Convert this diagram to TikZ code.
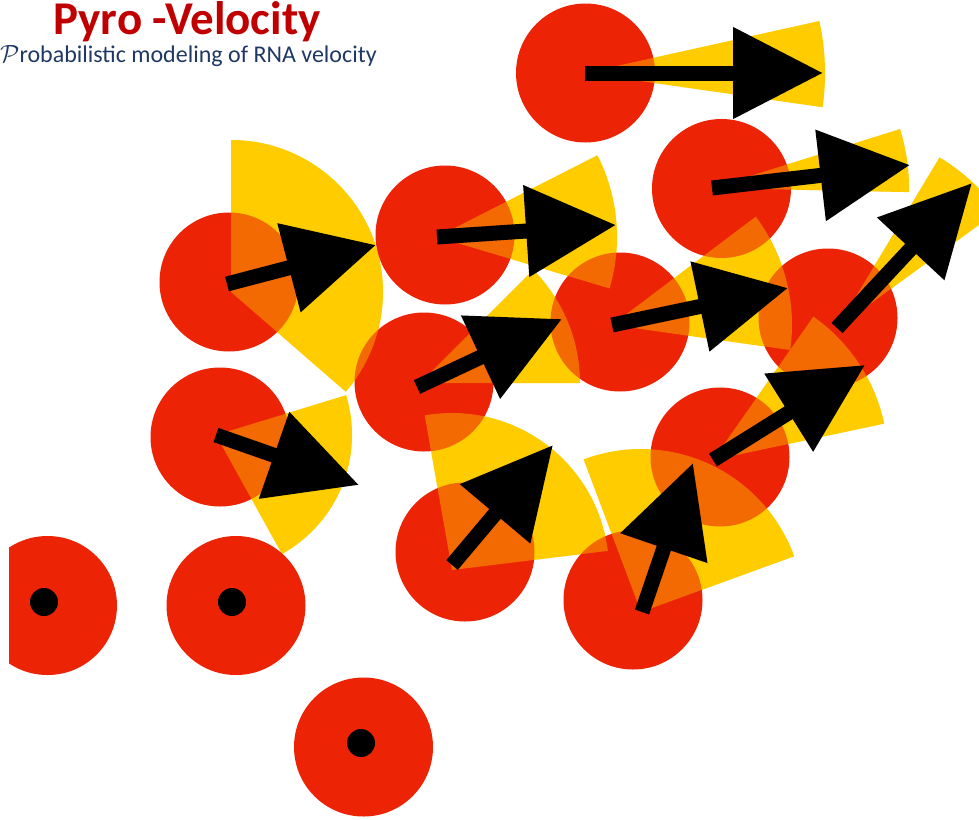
\documentclass[tikz,border=0pt]{standalone}
\usepackage{fontspec}
\setmainfont{Carlito}
\usetikzlibrary{arrows.meta}
\definecolor{cellred}{RGB}{236,35,5}
\definecolor{wedgey}{RGB}{255,204,0}
\definecolor{titlered}{RGB}{192,0,0}
\definecolor{navy}{RGB}{31,56,100}
\tikzset{
  cell/.style={fill=cellred},
  wedgebase/.style={fill=wedgey},
  wedgetop/.style={fill=wedgey, fill opacity=0.42},
  vel/.style={line width=15pt, -{Triangle[length=90pt,width=88pt]}},
  nucleus/.style={fill=black},
}
\newcommand\wedgefill[5]{\fill[#1] (#2) -- ++(#3:#5) arc[start angle=#3, end angle=#4, radius=#5] -- cycle;}
\begin{document}
\begin{tikzpicture}[x=1pt,y=-1pt]
\useasboundingbox (0,0) rectangle (979,819);
% cell centres
\coordinate (C1) at (585.5,73);
\coordinate (C2) at (721.5,188.5);
\coordinate (C3) at (229,282);
\coordinate (C4) at (445,235);
\coordinate (C5) at (620,322);
\coordinate (C6) at (828,318);
\coordinate (C7) at (424,382);
\coordinate (C8) at (220,437);
\coordinate (C9) at (720,457);
\coordinate (C10) at (465,552);
\coordinate (C11) at (633,600);
\coordinate (C12) at (47.5,605.5);
\coordinate (C13) at (236,605.5);
\coordinate (C14) at (363.5,747);
% arrow starts
\coordinate (A1) at (585,73);
\coordinate (A2) at (712,188);
\coordinate (A3) at (227,284);
\coordinate (A4) at (437,237);
\coordinate (A5) at (612,325);
\coordinate (A6) at (837,328);
\coordinate (A7) at (417,387);
\coordinate (A8) at (216,435);
\coordinate (A9) at (713,460);
\coordinate (A10) at (452,565);
\coordinate (A11) at (642,612);
% arrow tips
\coordinate (T1) at (823,73);
\coordinate (T2) at (910,165);
\coordinate (T3) at (376,245);
\coordinate (T4) at (616,225);
\coordinate (T5) at (788,288);
\coordinate (T6) at (972,183);
\coordinate (T7) at (562,319);
\coordinate (T8) at (359,485);
\coordinate (T9) at (865,365);
\coordinate (T10) at (553,445);
\coordinate (T11) at (693,463);
% wedge apexes
\coordinate (W1) at (585,73);
\coordinate (W2) at (712,188);
\coordinate (W3) at (231,292);
\coordinate (W4) at (437,237);
\coordinate (W5) at (612,325);
\coordinate (W6) at (837,328);
\coordinate (W7) at (420,383);
\coordinate (W8) at (216,435);
\coordinate (W9) at (713,460);
\coordinate (W10) at (452,570);
\coordinate (W11) at (641,612);
% nuclei
\coordinate (N12) at (44,602);
\coordinate (N13) at (232,602);
\coordinate (N14) at (361,743);
\def\wedgelist{W1/-12.5/8.2/240, W2/-17.4/1.2/197, W3/-90/41/152, W4/-27/16.6/180, W5/-37/8/180, W6/-59/-36/199, W7/-45/0/160, W8/-17/61/136, W9/-55/-12/175, W10/-100/-7/157, W11/-110.6/-20/163}
% opaque wedges
\foreach \w/\a/\b/\r in \wedgelist {\wedgefill{wedgebase}{\w}{\a}{\b}{\r}}
% cells
\foreach \c in {C1,C2,C3,C4,C5,C6,C7,C8,C9,C10,C11,C13,C14} {\fill[cell] (\c) circle[radius=69.5];}
\begin{scope}
  \clip (9,500) rectangle (200,700);
  \fill[cell] (C12) circle[radius=69.5];
\end{scope}
% translucent wedges
\foreach \w/\a/\b/\r in \wedgelist {\wedgefill{wedgetop}{\w}{\a}{\b}{\r}}
% velocity arrows
\foreach \i in {1,...,11} {\draw[vel] (A\i) -- (T\i);}
% nuclei
\foreach \n in {N12,N13,N14} {\fill[nucleus] (\n) circle[radius=14];}
% titles
\node[anchor=base, inner sep=0, text=titlered, font=\bfseries\fontsize{47}{47}\selectfont] (title) at (187,34) {Pyro -Velocity};
\node[anchor=base west, inner sep=0, text=navy, font=\fontsize{24}{24}\selectfont] (subtitle) at (0,62) {$\mathcal{P}$robabilistic modeling of RNA velocity};
\end{tikzpicture}
\end{document}
